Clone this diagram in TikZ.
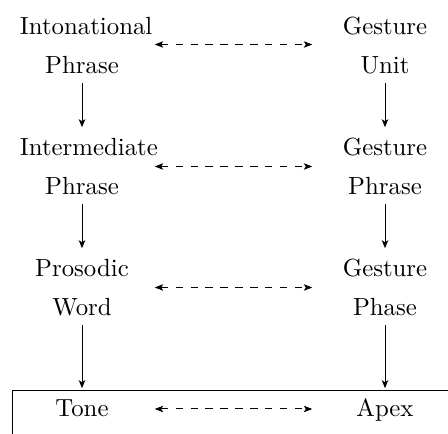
\documentclass[tikz,border=0pt]{standalone}
\usepackage{tikz}
\usetikzlibrary{arrows.meta,calc}
\tikzset{
  level/.style={align=center, text width=50pt, inner sep=0pt},
  down/.style={-{Stealth[length=3.2pt,width=2.6pt,inset=0.8pt]}, shorten >=3pt},
  pair/.style={{Stealth[length=3.4pt,width=2.6pt,inset=0.8pt]}-{Stealth[length=3.4pt,width=2.6pt,inset=0.8pt]}, dashed},
}
\newcommand\twoline[2]{\strut #1\\[3.7pt]#2\strut}

\begin{document}
\begin{tikzpicture}[x=0.4032pt,y=-0.4032pt]
  \clip (0,0) rectangle (448,434);
  \node[level] (iph) at (82,48.5) {\twoline{Intonational}{Phrase}};
  \node[level] (imp) at (82,169.5) {\twoline{Intermediate}{Phrase}};
  \node[level] (pwd) at (82,290.5) {\twoline{Prosodic}{Word}};
  \node[level] (tone) at (82,411) {\strut Tone};
  \node[level] (gu) at (385,48.5) {\twoline{Gesture}{Unit}};
  \node[level] (gph) at (385,169.5) {\twoline{Gesture}{Phrase}};
  \node[level] (gpa) at (385,290.5) {\twoline{Gesture}{Phase}};
  \node[level] (apex) at (385,411) {\strut Apex};
  \draw (12,470) -- (12,391) -- (470,391);
  \draw[down] (iph.south) -- (imp.north);
  \draw[down] (imp.south) -- (pwd.north);
  \draw[down] (pwd.south) -- (tone.north);
  \draw[down] (gu.south) -- (gph.north);
  \draw[down] (gph.south) -- (gpa.north);
  \draw[down] (gpa.south) -- (apex.north);
  \draw[pair] ($(iph)!0.24!(gu)+(0,-4)$) -- ($(iph)!0.76!(gu)+(0,-4)$);
  \draw[pair] ($(imp)!0.24!(gph)+(0,-3)$) -- ($(imp)!0.76!(gph)+(0,-3)$);
  \draw[pair] ($(pwd)!0.24!(gpa)+(0,-3)$) -- ($(pwd)!0.76!(gpa)+(0,-3)$);
  \draw[pair] ($(tone)!0.24!(apex)+(0,-2)$) -- ($(tone)!0.76!(apex)+(0,-2)$);
\end{tikzpicture}
\end{document}
